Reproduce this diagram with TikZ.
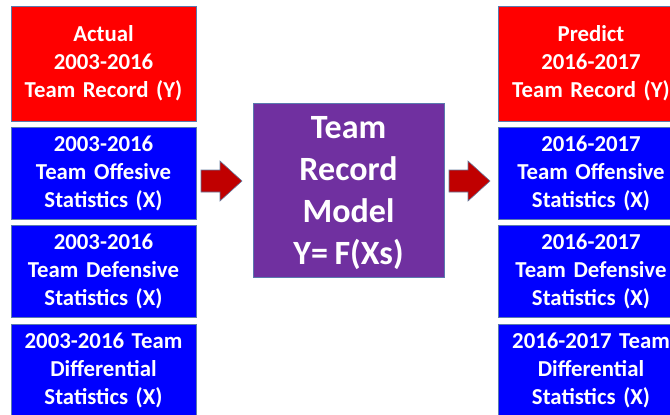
\documentclass[tikz,border=0pt]{standalone}
\usepackage{fontspec}
\setmainfont{Carlito}[WordSpace=0.85]
\definecolor{boxred}{HTML}{FF0000}
\definecolor{boxblue}{HTML}{0000FF}
\definecolor{modelpurple}{HTML}{7030A0}
\definecolor{arrowred}{HTML}{C00000}
\definecolor{edgeblue}{HTML}{5A7AAE}
\tikzset{
  databox/.style={draw=edgeblue, line width=0.9pt, text=white, align=center,
    minimum width=185pt, text width=184pt, inner sep=0pt,
    font=\fontsize{22.8}{28}\selectfont\bfseries},
  ybox/.style={databox, fill=boxred, minimum height=115pt},
  xbox/.style={databox, fill=boxblue, minimum height=92pt},
  modelbox/.style={draw=edgeblue, line width=0.9pt, fill=modelpurple,
    minimum width=191pt, minimum height=174pt, inner sep=0pt},
  modeltext/.style={text=white, align=center, inner sep=0pt,
    font=\fontsize{34}{42}\selectfont\bfseries},
  blockarrow/.style={draw=edgeblue!70!gray, line width=0.6pt, fill=arrowred}
}
\begin{document}
\begin{tikzpicture}[x=1pt, y=-1pt]
\useasboundingbox (0,0) rectangle (670,415);
\clip (0,0) rectangle (670,415);

% training data (left column)
\node[ybox] (ly)  at (103.5,63.5) {Actual\\2003-2016\\Team Record (Y)};
\node[xbox] (lx1) at (103.5,173)  {2003-2016\\Team Offesive\\Statistics (X)};
\node[xbox] (lx2) at (103.5,271)  {2003-2016\\Team Defensive\\Statistics (X)};
\node[xbox] (lx3) at (103.5,370)  {2003-2016 Team\\Differential\\Statistics (X)};

% model
\node[modelbox] (model) at (348.5,190) {};
\node[modeltext] (modellabel) at ([yshift=-3pt]model.center) {Team\\Record\\Model\\Y= F(Xs)};

% prediction data (right column)
\node[ybox] (ry)  at (591,63.5) {Predict\\2016-2017\\Team Record (Y)};
\node[xbox] (rx1) at (591,173)  {2016-2017\\Team Offensive\\Statistics (X)};
\node[xbox] (rx2) at (591,271)  {2016-2017\\Team Defensive\\Statistics (X)};
\node[xbox] (rx3) at (591,370)  {2016-2017 Team\\Differential\\Statistics (X)};

% block arrows between the columns and the model
\coordinate (a1) at (221.5,181);
\coordinate (a2) at (469.5,181);
\foreach \c in {a1,a2}{
  \draw[blockarrow, shift={(\c)}]
    (-20.5,-11) -- (-1.5,-11) -- (-1.5,-20) -- (20.5,0) -- (-1.5,20)
    -- (-1.5,11) -- (-20.5,11) -- cycle;
}
\end{tikzpicture}
\end{document}
